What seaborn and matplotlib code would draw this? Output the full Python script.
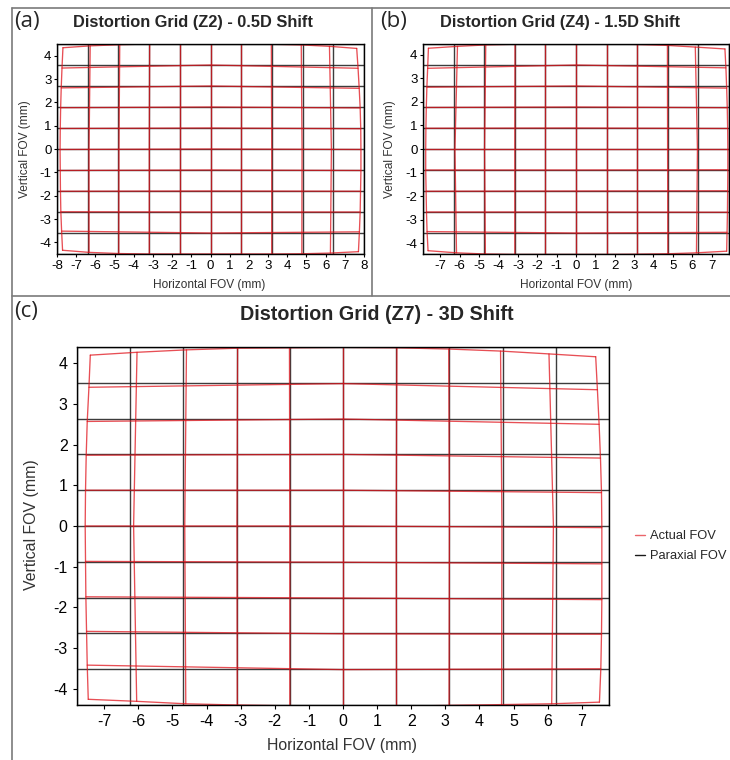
import pandas as pd
import seaborn as sns
import matplotlib.pyplot as plt
from matplotlib.lines import Line2D

# ---- paraxial grid positions (mm) ----
a_grid_x = [-8.0, -6.4, -4.8, -3.2, -1.6, 0.0, 1.6, 3.2, 4.8, 6.4, 8.0]
a_grid_y = [-4.5, -3.6, -2.7, -1.8, -0.9, 0.0, 0.9, 1.8, 2.7, 3.6, 4.5]
b_grid_x = [-7.9, -6.32, -4.74, -3.16, -1.58, 0.0, 1.58, 3.16, 4.74, 6.32, 7.9]
b_grid_y = [-4.45, -3.56, -2.67, -1.78, -0.89, 0.0, 0.89, 1.78, 2.67, 3.56, 4.45]
c_grid_x = [-7.8, -6.24, -4.68, -3.12, -1.56, 0.0, 1.56, 3.12, 4.68, 6.24, 7.8]
c_grid_y = [-4.4, -3.52, -2.64, -1.76, -0.88, 0.0, 0.88, 1.76, 2.64, 3.52, 4.4]

a_ticks_x = [-8, -7, -6, -5, -4, -3, -2, -1, 0, 1, 2, 3, 4, 5, 6, 7, 8]
bc_ticks_x = [-7, -6, -5, -4, -3, -2, -1, 0, 1, 2, 3, 4, 5, 6, 7]
ticks_y = [-4, -3, -2, -1, 0, 1, 2, 3, 4]

# ---- actual (distorted) grid, nodes ----
# top / bottom rows: one node per vertical line, left to right
# left / right columns: one node per horizontal line, bottom to top
# mid_x: x of each vertical line at the centre row, mid_y: y of each horizontal line at the centre column
a_top = [(-7.69, 4.34), (-6.27, 4.42), (-4.73, 4.47), (-3.17, 4.50), (-1.60, 4.50), (0.0, 4.50),
         (1.60, 4.50), (3.17, 4.49), (4.73, 4.46), (6.20, 4.40), (7.62, 4.31)]
a_bottom = [(-7.71, -4.34), (-6.33, -4.43), (-4.78, -4.48), (-3.19, -4.50), (-1.60, -4.50), (0.0, -4.50),
            (1.60, -4.50), (3.19, -4.50), (4.76, -4.49), (6.25, -4.46), (7.71, -4.40)]
a_left = [(-7.71, -4.34), (-7.76, -3.52), (-7.80, -2.69), (-7.82, -1.81), (-7.83, -0.92), (-7.84, -0.02),
          (-7.83, 0.88), (-7.81, 1.77), (-7.78, 2.62), (-7.74, 3.47), (-7.69, 4.34)]
a_right = [(7.71, -4.40), (7.76, -3.55), (7.80, -2.70), (7.82, -1.81), (7.84, -0.92), (7.84, -0.02),
           (7.83, 0.87), (7.80, 1.76), (7.75, 2.60), (7.69, 3.46), (7.62, 4.31)]
a_mid_x = [-7.84, -6.33, -4.77, -3.19, -1.60, 0.0, 1.60, 3.19, 4.77, 6.30, 7.84]
a_mid_y = [-4.50, -3.60, -2.70, -1.80, -0.90, 0.0, 0.90, 1.80, 2.70, 3.60, 4.50]

b_top = [(-7.62, 4.27), (-6.12, 4.35), (-4.66, 4.41), (-3.15, 4.44), (-1.58, 4.45), (0.0, 4.45),
         (1.58, 4.45), (3.16, 4.43), (4.72, 4.39), (6.16, 4.32), (7.69, 4.24)]
b_bottom = [(-7.64, -4.31), (-6.17, -4.40), (-4.68, -4.45), (-3.16, -4.47), (-1.58, -4.47), (0.0, -4.47),
            (1.58, -4.47), (3.16, -4.46), (4.74, -4.44), (6.22, -4.40), (7.78, -4.33)]
b_left = [(-7.64, -4.31), (-7.69, -3.50), (-7.72, -2.67), (-7.74, -1.79), (-7.76, -0.89), (-7.76, 0.0),
          (-7.75, 0.88), (-7.73, 1.76), (-7.70, 2.62), (-7.66, 3.42), (-7.62, 4.27)]
b_right = [(7.78, -4.33), (7.80, -3.53), (7.82, -2.68), (7.83, -1.77), (7.84, -0.88), (7.84, 0.0),
           (7.83, 0.87), (7.81, 1.75), (7.78, 2.58), (7.74, 3.44), (7.69, 4.24)]
b_mid_x = [-7.76, -6.25, -4.72, -3.16, -1.58, 0.0, 1.58, 3.16, 4.73, 6.27, 7.84]
b_mid_y = [-4.47, -3.56, -2.67, -1.78, -0.89, 0.0, 0.89, 1.78, 2.67, 3.56, 4.45]

c_top = [(-7.41, 4.20), (-6.04, 4.27), (-4.59, 4.33), (-3.09, 4.37), (-1.57, 4.38), (0.0, 4.39),
         (1.58, 4.38), (3.10, 4.35), (4.62, 4.30), (6.04, 4.23), (7.41, 4.16)]
c_bottom = [(-7.47, -4.26), (-6.05, -4.31), (-4.61, -4.37), (-3.10, -4.40), (-1.56, -4.42), (0.0, -4.43),
            (1.57, -4.43), (3.11, -4.41), (4.65, -4.39), (6.12, -4.37), (7.52, -4.33)]
c_left = [(-7.47, -4.26), (-7.50, -3.42), (-7.52, -2.59), (-7.54, -1.74), (-7.55, -0.87), (-7.56, 0.0),
          (-7.55, 0.88), (-7.53, 1.74), (-7.50, 2.57), (-7.45, 3.41), (-7.41, 4.20)]
c_right = [(7.52, -4.33), (7.56, -3.51), (7.58, -2.66), (7.59, -1.81), (7.59, -0.93), (7.59, -0.04),
           (7.58, 0.82), (7.55, 1.67), (7.51, 2.50), (7.46, 3.35), (7.41, 4.16)]
c_mid_x = [-7.56, -6.14, -4.64, -3.11, -1.56, 0.0, 1.56, 3.12, 4.66, 6.17, 7.59]
c_mid_y = [-4.43, -3.53, -2.65, -1.77, -0.89, 0.0, 0.88, 1.76, 2.63, 3.50, 4.39]


def grid_frame(gx, gy, top, bottom, left, right, mid_x, mid_y):
    rows = []
    # paraxial grid
    for i, x in enumerate(gx):
        rows += [("Paraxial FOV", f"pv{i}", x, gy[0]), ("Paraxial FOV", f"pv{i}", x, gy[-1])]
    for j, y in enumerate(gy):
        rows += [("Paraxial FOV", f"ph{j}", gx[0], y), ("Paraxial FOV", f"ph{j}", gx[-1], y)]
    # actual grid: outer edges through all their nodes
    for name, nodes in [("top", top), ("bottom", bottom), ("left", left), ("right", right)]:
        rows += [("Actual FOV", name, x, y) for x, y in nodes]
    # inner lines through edge nodes and centre crossing
    for i in range(1, len(gx) - 1):
        pts = [top[i], (mid_x[i], mid_y[5]), bottom[i]]
        rows += [("Actual FOV", f"av{i}", x, y) for x, y in pts]
    for j in range(1, len(gy) - 1):
        pts = [left[j], (mid_x[5], mid_y[j]), right[j]]
        rows += [("Actual FOV", f"ah{j}", x, y) for x, y in pts]
    return pd.DataFrame(rows, columns=["kind", "line", "x", "y"])


sns.set_style("ticks")
plt.rcParams["font.family"] = ["Liberation Sans", "DejaVu Sans"]
plt.rcParams["axes.unicode_minus"] = False

red = "#e0141c"
black = "#1a1a1a"

fig = plt.figure(figsize=(7.3, 7.6), dpi=100)
W, H = 730, 760


def add_axes(l, r, t, b):
    return fig.add_axes([l / W, 1 - b / H, (r - l) / W, (b - t) / H])


ax_a = add_axes(57, 364, 44, 254)
ax_b = add_axes(423, 729, 44, 254)
ax_c = add_axes(77, 609, 347, 705)

panels = [
    (ax_a, grid_frame(a_grid_x, a_grid_y, a_top, a_bottom, a_left, a_right, a_mid_x, a_mid_y),
     a_grid_x, a_grid_y, a_ticks_x, "small"),
    (ax_b, grid_frame(b_grid_x, b_grid_y, b_top, b_bottom, b_left, b_right, b_mid_x, b_mid_y),
     b_grid_x, b_grid_y, bc_ticks_x, "small"),
    (ax_c, grid_frame(c_grid_x, c_grid_y, c_top, c_bottom, c_left, c_right, c_mid_x, c_mid_y),
     c_grid_x, c_grid_y, bc_ticks_x, "big"),
]

for ax, df, gx, gy, xt, size in panels:
    sns.lineplot(data=df[df["kind"] == "Paraxial FOV"], x="x", y="y", units="line",
                 estimator=None, sort=False, color=black, alpha=0.85, lw=1.0, ax=ax)
    sns.lineplot(data=df[df["kind"] == "Actual FOV"], x="x", y="y", units="line",
                 estimator=None, sort=False, color=red, alpha=0.75, lw=0.95, ax=ax)
    ax.set_xlim(gx[0], gx[-1])
    ax.set_ylim(gy[0], gy[-1])
    ax.set_xticks(xt)
    ax.set_yticks(ticks_y)
    for s in ax.spines.values():
        s.set_color("black")
        s.set_linewidth(1.0)
    fs = 9.5 if size == "small" else 11.5
    ax.tick_params(labelsize=fs, length=2.5 if size == "small" else 3.2, width=0.8,
                   pad=1.5 if size == "small" else 3.5, colors="black")
    ax.set_xlabel("Horizontal FOV (mm)", fontsize=8.6 if size == "small" else 11.4, color="#333333")
    ax.set_ylabel("Vertical FOV (mm)", fontsize=8.6 if size == "small" else 11.4, color="#333333")
    ax.xaxis.label.set_va("center")
    ax.yaxis.label.set_va("center")

ax_a.xaxis.set_label_coords(0.497, -0.148)
ax_a.yaxis.set_label_coords(-0.104, 0.5)
ax_b.xaxis.set_label_coords(0.502, -0.148)
ax_b.yaxis.set_label_coords(-0.108, 0.5)
ax_c.xaxis.set_label_coords(0.498, -0.1145)
ax_c.yaxis.set_label_coords(-0.0846, 0.503)

# titles and panel letters
fig.text(192.5 / W, 1 - 22.5 / H, "Distortion Grid (Z2) - 0.5D Shift", ha="center", va="center",
         fontsize=11.8, fontweight="bold")
fig.text(559.5 / W, 1 - 22.5 / H, "Distortion Grid (Z4) - 1.5D Shift", ha="center", va="center",
         fontsize=11.8, fontweight="bold")
fig.text(376.5 / W, 1 - 315 / H, "Distortion Grid (Z7) - 3D Shift", ha="center", va="center",
         fontsize=14.2, fontweight="bold")
for x, y, s in [(14, 22, "(a)"), (380, 22, "(b)"), (14, 311, "(c)")]:
    fig.text(x / W, 1 - y / H, s, ha="left", va="center", fontsize=16,
             family=["Open Sans", "DejaVu Sans"])

# panel frames
border = "#7a7a7a"
for x0, y0, x1, y1 in [(12, 8, 730, 8), (12, 8, 12, 760), (372, 8, 372, 296), (12, 296, 730, 296)]:
    fig.add_artist(Line2D([x0 / W, x1 / W], [1 - y0 / H, 1 - y1 / H], color=border, lw=1.2))

handles = [Line2D([], [], color=red, alpha=0.65, lw=1.0), Line2D([], [], color=black, lw=1.0)]
fig.legend(handles, ["Actual FOV", "Paraxial FOV"], loc="upper left",
           bbox_to_anchor=(635 / W, 1 - 530 / H), frameon=False, fontsize=9.3,
           handlelength=0.8, handletextpad=0.35, borderpad=0, borderaxespad=0, labelspacing=0.62)

fig.savefig("out.png", dpi=100)
